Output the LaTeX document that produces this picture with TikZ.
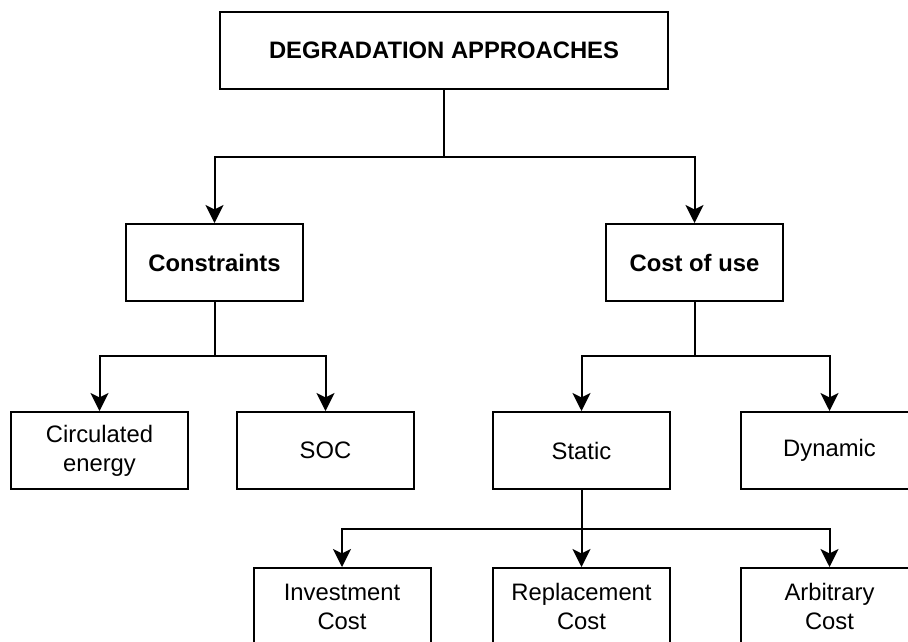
\documentclass[tikz,border=0pt]{standalone}
\usepackage{fontspec}
\setmainfont{Liberation Sans}
\usetikzlibrary{arrows.meta}
\begin{document}
\begin{tikzpicture}[x=1pt,y=-1pt,
  box/.style={draw,line width=2pt,minimum width=177pt,minimum height=77pt,inner sep=0pt,align=center,font=\fontsize{23.8}{29}\selectfont},
  link/.style={line width=2pt},
  arr/.style={link,-{Stealth[length=18pt,width=18pt,inset=4.5pt]}}]
\useasboundingbox (0,0) rectangle (908,641);
\clip (0,0) rectangle (908,641);
\node[box,minimum width=448pt] (top) at (444,50.5) {\textbf{DEGRADATION APPROACHES}};
\node[box] (cons) at (214.5,262.5) {\textbf{Constraints}};
\node[box] (cost) at (694.5,262.5) {\textbf{Cost of use}};
\node[box] (circ) at (99.5,450.5) {Circulated\\energy};
\node[box] (soc) at (325.5,450.5) {SOC};
\node[box] (stat) at (581.5,450.5) {Static};
\node[box] (dyn) at (829.5,450.5) {Dynamic};
\node[box] (inv) at (342,606.5) {Investment\\Cost};
\node[box] (repl) at (581.5,606.5) {Replacement\\Cost};
\node[box] (arb) at (829.5,606.5) {Arbitrary\\Cost};
\coordinate (j1) at (444,157);
\coordinate (j2) at (214.5,356);
\coordinate (j3) at (694.5,356);
\coordinate (j4) at (581.5,529);
\draw[link] (top.south) -- (j1);
\draw[arr] (j1) -| (cons.north);
\draw[arr] (j1) -| (cost.north);
\draw[link] (cons.south) -- (j2);
\draw[arr] (j2) -| (circ.north);
\draw[arr] (j2) -| (soc.north);
\draw[link] (cost.south) -- (j3);
\draw[arr] (j3) -| (stat.north);
\draw[arr] (j3) -| (dyn.north);
\draw[link] (stat.south) -- (j4);
\draw[arr] (j4) -| (inv.north);
\draw[arr] (j4) -- (repl.north);
\draw[arr] (j4) -| (arb.north);
\end{tikzpicture}
\end{document}
